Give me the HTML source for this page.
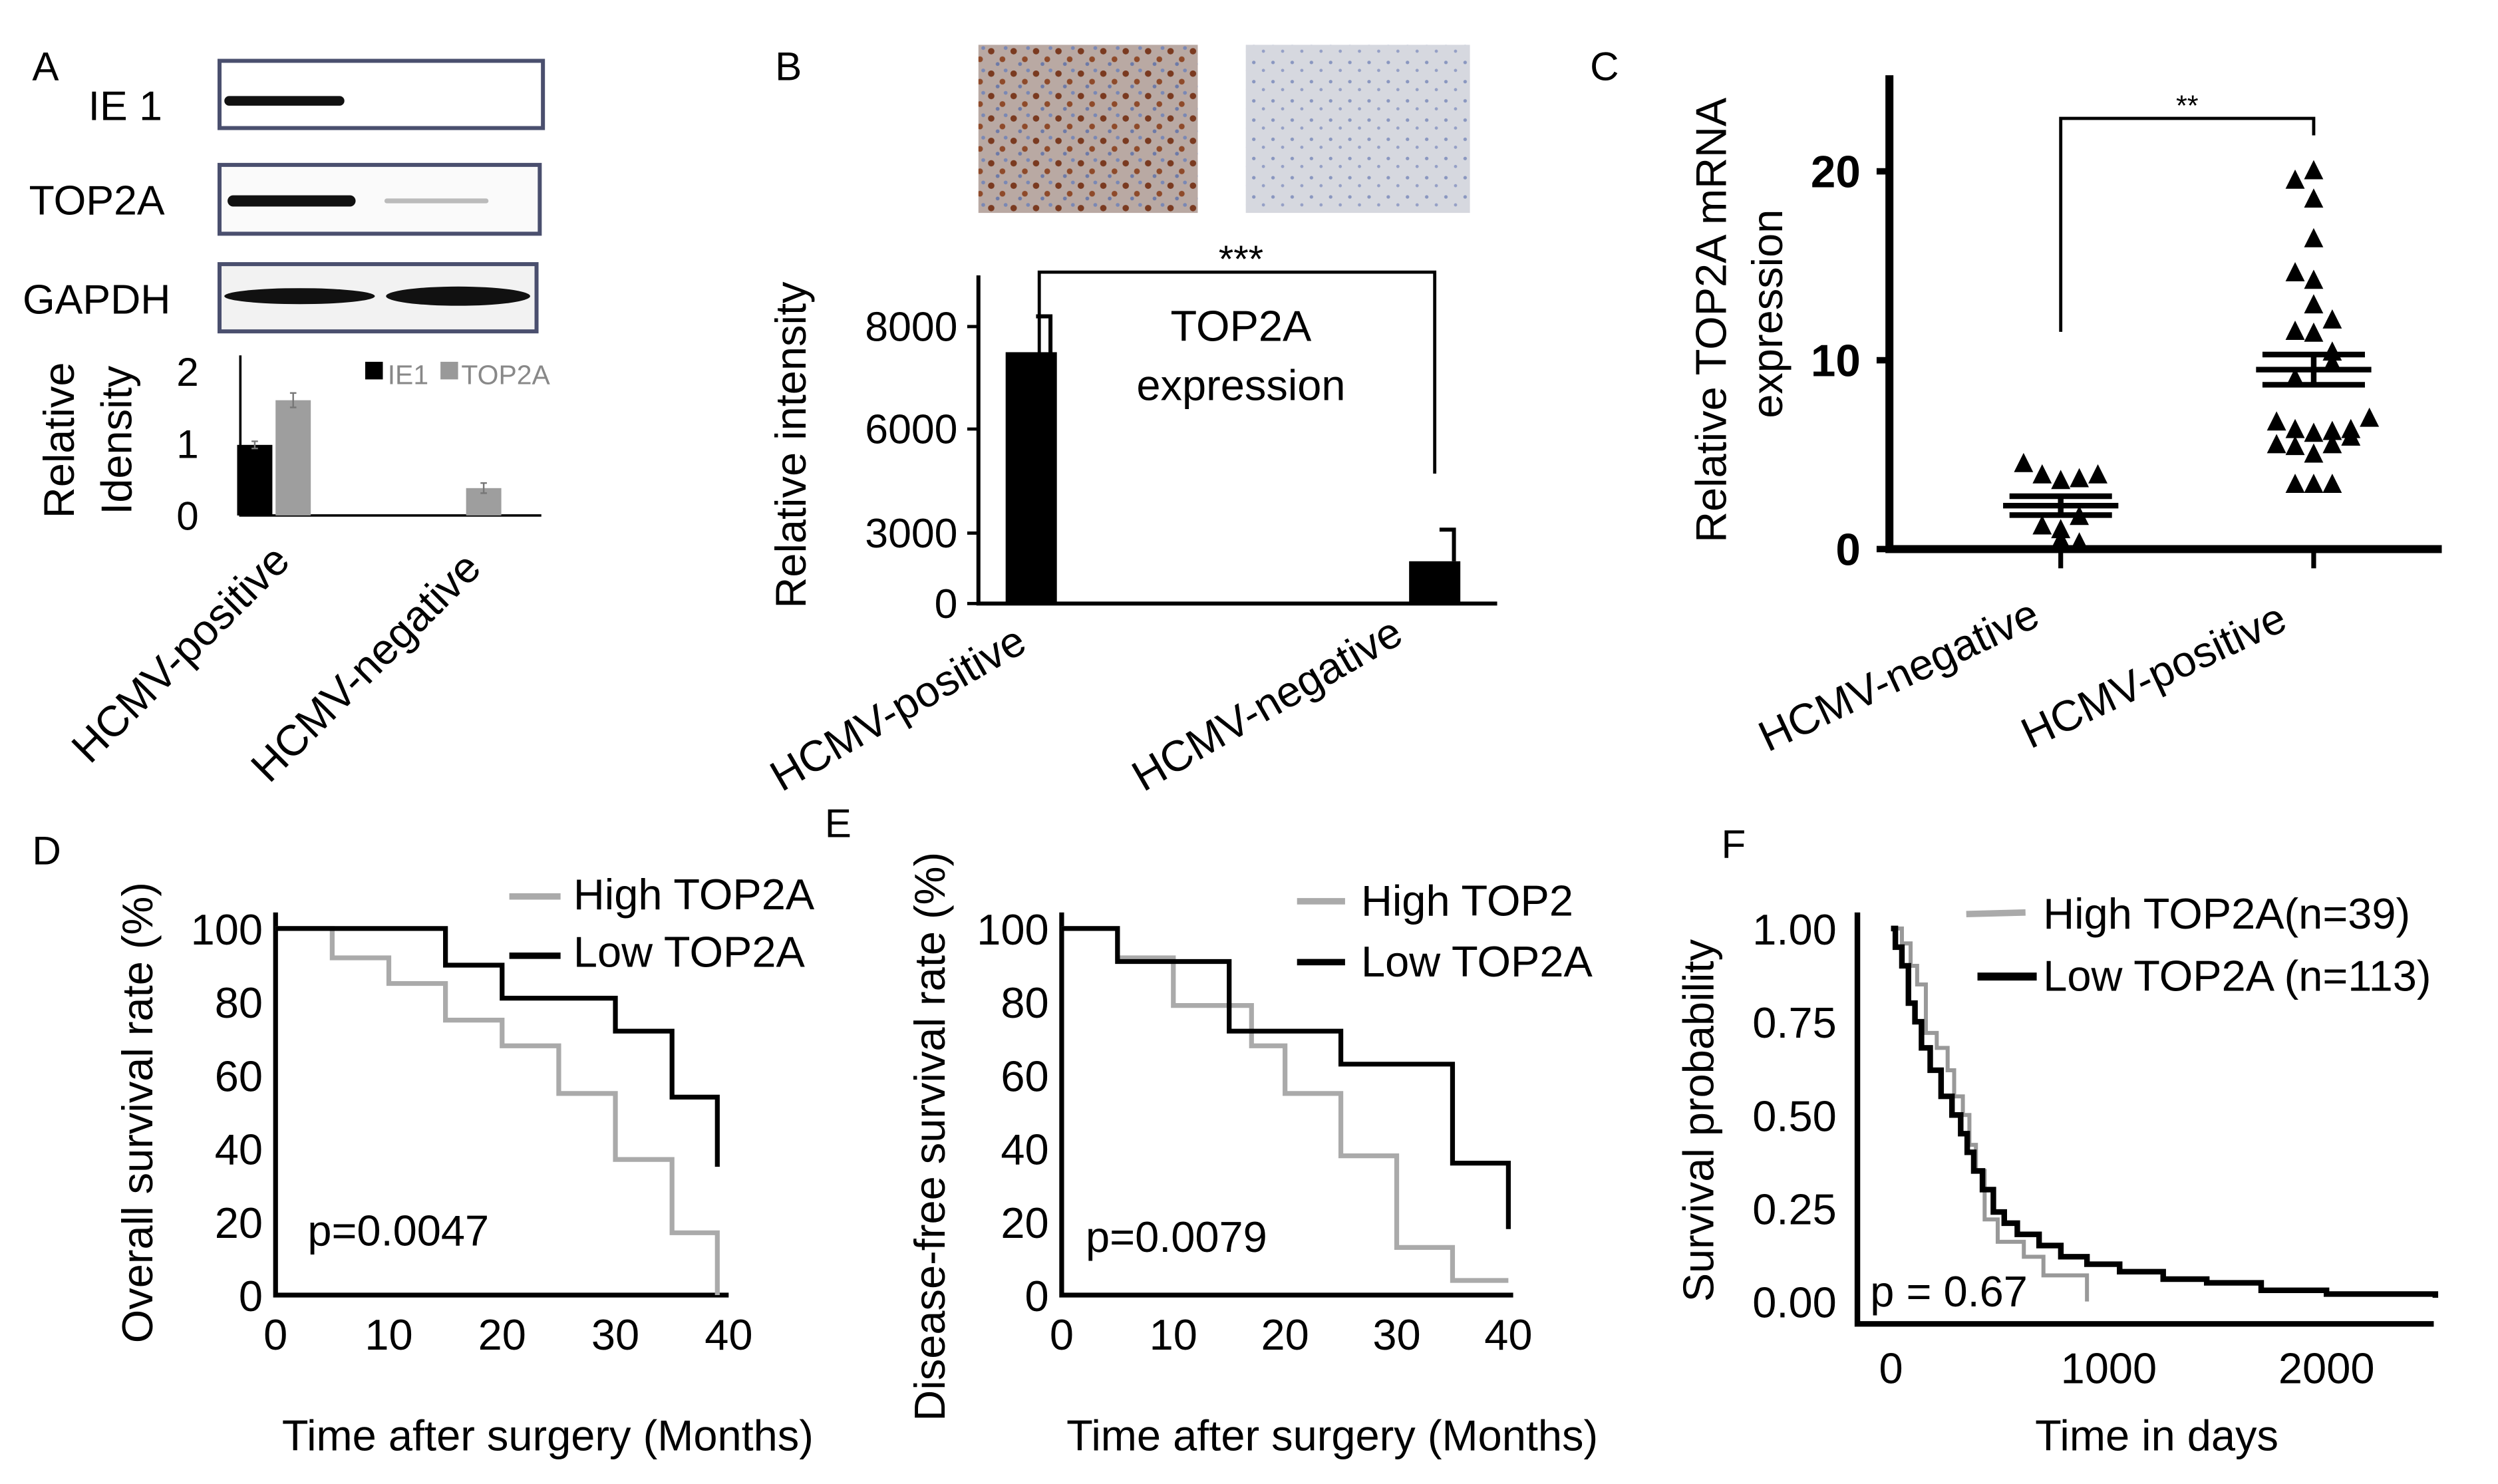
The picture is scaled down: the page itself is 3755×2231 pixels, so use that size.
<!DOCTYPE html>
<html><head><meta charset="utf-8"><style>
html,body{margin:0;padding:0;background:#fff}
svg{display:block}
text{font-family:"Liberation Sans",sans-serif;fill:#000}
</style></head><body>
<svg id="fig" xmlns="http://www.w3.org/2000/svg" width="3755" height="2231" viewBox="0 0 1560 927">
<defs>
<pattern id="ihcPos" width="14" height="14" patternUnits="userSpaceOnUse"><rect width="14" height="14" fill="#b9a9a3"/><circle cx="3" cy="4" r="2" fill="#7a3a20"/><circle cx="10" cy="9" r="1.8" fill="#8e4a2a"/><circle cx="7" cy="12" r="1.2" fill="#6d7aa8"/><circle cx="12" cy="2" r="1.2" fill="#7a88b5"/></pattern>
<pattern id="ihcNeg" width="12" height="12" patternUnits="userSpaceOnUse"><rect width="12" height="12" fill="#d6d8df"/><circle cx="3" cy="3" r="1.1" fill="#8a97c0"/><circle cx="9" cy="8" r="1" fill="#95a0c6"/></pattern>
</defs>

<g>
<text x="20" y="50" font-size="25">A</text>
<text x="55" y="75" font-size="26">IE 1</text>
<rect x="137" y="38" width="202" height="42" fill="#fff" stroke="#4a4f6e" stroke-width="2.5"/>
<rect x="140" y="60" width="75" height="6" rx="3" fill="#111"/>
<text x="18" y="134" font-size="26">TOP2A</text>
<rect x="137" y="103" width="200" height="43" fill="#fafafa" stroke="#4a4f6e" stroke-width="2.5"/>
<rect x="142" y="122" width="80" height="7" rx="3.5" fill="#111"/>
<rect x="240" y="124" width="65" height="3" rx="1.5" fill="#bbb"/>
<text x="14" y="196" font-size="26">GAPDH</text>
<rect x="137" y="165" width="198" height="42" fill="#f2f2f2" stroke="#4a4f6e" stroke-width="2.5"/>
<ellipse cx="187" cy="185" rx="47" ry="5" fill="#111"/>
<ellipse cx="286" cy="185" rx="45" ry="6" fill="#111"/>
<g id="chartA"></g>
<text transform="translate(46,275) rotate(-90)" font-size="27" text-anchor="middle">Relative</text>
<text transform="translate(82,275) rotate(-90)" font-size="27" text-anchor="middle">Idensity</text>
<rect x="228" y="226" width="11" height="11" fill="#000"/>
<text x="242" y="240" font-size="17" style="fill:#888">IE1</text>
<rect x="275" y="226" width="11" height="11" fill="#999"/>
<text x="288" y="240" font-size="17" style="fill:#888">TOP2A</text>
<text transform="translate(56,478) rotate(-45)" font-size="27">HCMV-positive</text>
<text transform="translate(168,490) rotate(-45)" font-size="27">HCMV-negative</text>
</g>

<g>
<text x="484" y="50" font-size="25">B</text>
<rect x="611" y="28" width="137" height="105" fill="url(#ihcPos)"/>
<rect x="778" y="28" width="140" height="105" fill="url(#ihcNeg)"/>
<g id="chartB"></g>
<text transform="translate(503,278) rotate(-90)" font-size="27" text-anchor="middle">Relative intensity</text>
<text x="775" y="213" font-size="27" text-anchor="middle">TOP2A</text>
<text x="775" y="250" font-size="27" text-anchor="middle">expression</text>
<text transform="translate(488,495) rotate(-30)" font-size="27">HCMV-positive</text>
<text transform="translate(714,495) rotate(-30)" font-size="27">HCMV-negative</text>
</g>

<g>
<text x="993" y="50" font-size="25">C</text>
<g id="chartC"></g>
<text transform="translate(1078,200) rotate(-90)" font-size="27" text-anchor="middle">Relative TOP2A mRNA</text>
<text transform="translate(1113,196) rotate(-90)" font-size="27" text-anchor="middle">expression</text>
<text transform="translate(1104,470) rotate(-25)" font-size="27">HCMV-negative</text>
<text transform="translate(1268,468) rotate(-25)" font-size="27">HCMV-positive</text>
</g>

<g>
<text x="20" y="540" font-size="25">D</text>
<g id="chartD"></g>
<text transform="translate(95,695) rotate(-90)" font-size="27" text-anchor="middle">Overall survival rate (%)</text>
<text x="342" y="906" font-size="27" text-anchor="middle">Time after surgery (Months)</text>
<line x1="318" y1="560" x2="350" y2="560" stroke="#aaa" stroke-width="4"/>
<text x="358" y="568" font-size="27">High TOP2A</text>
<line x1="318" y1="597" x2="350" y2="597" stroke="#000" stroke-width="4"/>
<text x="358" y="604" font-size="27">Low TOP2A</text>
<text x="192" y="778" font-size="27">p=0.0047</text>
</g>

<g>
<text x="515" y="523" font-size="25">E</text>
<g id="chartE"></g>
<text transform="translate(590,710) rotate(-90)" font-size="27" text-anchor="middle">Disease-free survival rate (%)</text>
<text x="832" y="906" font-size="27" text-anchor="middle">Time after surgery (Months)</text>
<line x1="810" y1="563" x2="840" y2="563" stroke="#aaa" stroke-width="4"/>
<text x="850" y="572" font-size="27">High TOP2</text>
<line x1="810" y1="601" x2="840" y2="601" stroke="#000" stroke-width="4"/>
<text x="850" y="610" font-size="27">Low TOP2A</text>
<text x="678" y="782" font-size="27">p=0.0079</text>
</g>

<g>
<text x="1075" y="536" font-size="25">F</text>
<g id="chartF"></g>
<text transform="translate(1070,700) rotate(-90)" font-size="27" text-anchor="middle">Survival probability</text>
<text x="1347" y="906" font-size="27" text-anchor="middle">Time in days</text>
<line x1="1228" y1="571" x2="1265" y2="570" stroke="#aaa" stroke-width="4"/>
<text x="1276" y="580" font-size="27">High TOP2A(n=39)</text>
<line x1="1235" y1="610" x2="1272" y2="610" stroke="#000" stroke-width="5"/>
<text x="1276" y="619" font-size="27">Low TOP2A (n=113)</text>
<text x="1168" y="816" font-size="27">p = 0.67</text>
</g>
</svg>
<script>
var aGroups = ["HCMV-positive","HCMV-negative"];
var aIE1 = [0.98, 0];
var aTOP2A = [1.6, 0.38];
var aIE1Err = [0.05, 0];
var aTOP2AErr = [0.1, 0.07];
var aTicks = [0,1,2];

var bGroups = ["HCMV-positive","HCMV-negative"];
var bValues = [7500, 1800];
var bErr = [700, 1300];
var bTicks = [0,3000,6000,8000];

var cNeg = [4.5,3.9,3.6,3.7,3.9,1.7,1.2,1.0,0.45,0.3];
var cNegSlot = [-2,-1,0,1,2,1,-1,0,0,1];
var cPos = [20,19.5,18.5,16.4,14.6,14.2,12.9,12.1,11.5,11.4,10.4,9.8,9.0,6.9,6.7,6.3,6.1,6.2,6.3,5.9,5.5,5.4,5.5,5.0,3.4,3.4,3.4];
var cPosSlot = [0,-1,0,0,-1,0,0,1,-1,0,1,1,-1,3,-2,-1,0,1,2,2,-2,-1,1,0,-1,0,1];
var cMeans = [2.3, 9.5];
var cSem = [0.5, 0.8];
var cTicks = [0,10,20];

var dTicks = [0,10,20,30,40];
var dYTicks = [0,20,40,60,80,100];
var dHighT = [0,5,10,15,20,25,30,35,39,39];
var dHighS = [100,92,85,75,68,55,37,17,0,0];
var dLowT = [0,15,20,30,35,39,39];
var dLowS = [100,90,81,72,54,35,35];

var eHighT = [0,5,10,17,20,25,30,35,40];
var eHighS = [100,92,79,68,55,38,13,4,4];
var eLowT = [0,5,15,25,35,40,40];
var eLowS = [100,91,72,63,36,18,18];

var fXTicks = [0,1000,2000];
var fYTicks = [0,0.25,0.5,0.75,1.0];
var fYLabels = ["0.00","0.25","0.50","0.75","1.00"];
var fLowT = [0,20,50,80,110,140,180,230,280,320,350,380,420,470,520,580,680,780,900,1050,1250,1450,1700,2000,2500];
var fLowS = [1.0,0.95,0.9,0.8,0.75,0.68,0.62,0.55,0.5,0.45,0.4,0.35,0.3,0.24,0.21,0.18,0.15,0.12,0.1,0.08,0.06,0.05,0.03,0.02,0.01];
var fHighT = [0,50,90,120,160,210,260,290,330,360,390,430,490,610,700,900,900];
var fHighS = [1.0,0.96,0.9,0.85,0.72,0.68,0.62,0.55,0.5,0.42,0.35,0.22,0.16,0.12,0.07,0.05,0.0];

var NS = "http://www.w3.org/2000/svg";
function mk(parent, tag, attrs){var e=document.createElementNS(NS,tag);for(var k in attrs)e.setAttribute(k,attrs[k]);parent.appendChild(e);return e;}
function lin(d0,d1,r0,r1){return function(v){return r0+(v-d0)*(r1-r0)/(d1-d0);};}
function piece(dom,rng){return function(v){for(var i=0;i<dom.length-1;i++){if(v<=dom[i+1]||i==dom.length-2){return rng[i]+(v-dom[i])*(rng[i+1]-rng[i])/(dom[i+1]-dom[i]);}}};}
function stepPath(T,S,x,y){var d="M"+x(T[0])+","+y(S[0]);for(var i=1;i<T.length;i++){d+=" H"+x(T[i])+" V"+y(S[i]);}return d;}

(function(){
var g=document.getElementById("chartA");
var y=lin(0,2,322,232);
var gx=[171,302];
var ax=mk(g,"path",{d:"M150,222 V322 H338",fill:"none",stroke:"#000","stroke-width":1.5});

aTicks.forEach(function(t){var tx=mk(g,"text",{x:124,y:y(t)+9,"font-size":25,"text-anchor":"end"});tx.textContent=t;
});
aGroups.forEach(function(gr,i){
 if(aIE1[i]>0){var r=mk(g,"rect",{x:gx[i]-11-12,y:y(aIE1[i]),width:22,height:y(0)-y(aIE1[i]),fill:"#000"});
 
 var e=mk(g,"path",{d:"M"+(gx[i]-12)+","+y(aIE1[i]+aIE1Err[i])+" V"+y(aIE1[i]-aIE1Err[i])+" M"+(gx[i]-14)+","+y(aIE1[i]+aIE1Err[i])+" h4 M"+(gx[i]-14)+","+y(aIE1[i]-aIE1Err[i])+" h4",stroke:"#777","stroke-width":1,fill:"none"});
 }
 var bx=i==0?gx[i]+12:gx[i];
 var r2=mk(g,"rect",{x:bx-11,y:y(aTOP2A[i]),width:22,height:y(0)-y(aTOP2A[i]),fill:"#9e9e9e"});
 
 var e2=mk(g,"path",{d:"M"+bx+","+y(aTOP2A[i]+aTOP2AErr[i])+" V"+y(aTOP2A[i]-aTOP2AErr[i])+" M"+(bx-2)+","+y(aTOP2A[i]+aTOP2AErr[i])+" h4 M"+(bx-2)+","+y(aTOP2A[i]-aTOP2AErr[i])+" h4",stroke:"#777","stroke-width":1,fill:"none"});
 
});
})();

(function(){
var g=document.getElementById("chartB");
var y=piece([0,3000,6000,8000],[377,333,268,204]);
var gx=[644,896];
var ax=mk(g,"path",{d:"M611,172 V377 H935",fill:"none",stroke:"#000","stroke-width":2.5});

bTicks.forEach(function(t){var tk=mk(g,"line",{x1:604,x2:611,y1:y(t),y2:y(t),stroke:"#000","stroke-width":2});

var tx=mk(g,"text",{x:598,y:y(t)+9,"font-size":26,"text-anchor":"end"});tx.textContent=t;
});
bValues.forEach(function(v,i){
 var r=mk(g,"rect",{x:gx[i]-16,y:y(v),width:32,height:y(0)-y(v),fill:"#000"});
 
 var e=mk(g,"path",{d:"M"+(gx[i]+12)+","+y(v)+" V"+y(v+bErr[i])+" h-9",stroke:"#000","stroke-width":2.5,fill:"none"});
 
});
var br=mk(g,"path",{d:"M"+(gx[0]+5)+","+y(bValues[0]+bErr[0]-1100)+" V170 H"+(gx[1])+" V"+(y(bValues[1]+bErr[1])-35),stroke:"#000","stroke-width":2,fill:"none"});

var st=mk(g,"text",{x:775,y:170,"font-size":24,"text-anchor":"middle"});st.textContent="***";

})();

(function(){
var g=document.getElementById("chartC");
var y=lin(0,20,343,107);
var gx=[1287,1445];var slot=11.6;
var ax=mk(g,"path",{d:"M1180,47 V343 H1525",fill:"none",stroke:"#000","stroke-width":5});

cTicks.forEach(function(t){var tk=mk(g,"line",{x1:1172,x2:1180,y1:y(t),y2:y(t),stroke:"#000","stroke-width":4});

var tx=mk(g,"text",{x:1162,y:y(t)+10,"font-size":28,"font-weight":"bold","text-anchor":"end"});tx.textContent=t;
});
gx.forEach(function(x){var tk=mk(g,"line",{x1:x,x2:x,y1:343,y2:355,stroke:"#000","stroke-width":3});
});
function tri(x,yy,name){var p=mk(g,"path",{d:"M"+x+","+(yy-7)+" L"+(x+6)+","+(yy+5)+" L"+(x-6)+","+(yy+5)+"Z",fill:"#000"});
}
cNeg.forEach(function(v,i){tri(gx[0]+cNegSlot[i]*slot,y(v),'c-point-negative');});
cPos.forEach(function(v,i){tri(gx[1]+cPosSlot[i]*slot,y(v),'c-point-positive');});
cMeans.forEach(function(m,i){
 var p=mk(g,"path",{d:"M"+(gx[i]-36)+","+y(m)+" h72 M"+(gx[i]-32)+","+y(m+cSem[i])+" h64 M"+(gx[i]-32)+","+y(m-cSem[i])+" h64 M"+gx[i]+","+y(m+cSem[i])+" V"+y(m-cSem[i]),stroke:"#000","stroke-width":3.5,fill:"none"});
 
});
var br=mk(g,"path",{d:"M"+gx[0]+","+y(11.5)+" V"+y(22.8)+" H"+gx[1]+" V"+y(21.9),stroke:"#000","stroke-width":2,fill:"none"});

var st=mk(g,"text",{x:(gx[0]+gx[1])/2,y:72,"font-size":18,"text-anchor":"middle"});st.textContent="**";

})();

function km(id,x0,xMax,xEnd,lowT,lowS,highT,highS,pre){
var g=document.getElementById(id);
var x=lin(0,40,x0,x0+(xMax-x0));var y=lin(0,100,809,580);
var ax=mk(g,"path",{d:"M"+x0+",570 V809 H"+xEnd,fill:"none",stroke:"#000","stroke-width":3});

dTicks.forEach(function(t){var tx=mk(g,"text",{x:x(t),y:843,"font-size":27,"text-anchor":"middle"});tx.textContent=t;
});
dYTicks.forEach(function(t){var tx=mk(g,"text",{x:x0-8,y:y(t)+10,"font-size":27,"text-anchor":"end"});tx.textContent=t;
});
var h=mk(g,"path",{d:stepPath(highT,highS,x,y),fill:"none",stroke:"#aaa","stroke-width":3});

var l=mk(g,"path",{d:stepPath(lowT,lowS,x,y),fill:"none",stroke:"#000","stroke-width":3});

}
km("chartD",172,455,455,dLowT,dLowS,dHighT,dHighS,'d');
km("chartE",663,942,945,eLowT,eLowS,eHighT,eHighS,'e');

(function(){
var g=document.getElementById("chartF");
var x=lin(0,1000,1181,1317);var y=lin(0,1,813,580);
var ax=mk(g,"path",{d:"M1160,570 V827 H1520",fill:"none",stroke:"#000","stroke-width":3.5});

fXTicks.forEach(function(t){var tx=mk(g,"text",{x:x(t),y:864,"font-size":27,"text-anchor":"middle"});tx.textContent=t;
});
fYTicks.forEach(function(t,i){var tx=mk(g,"text",{x:1147,y:y(t)+10,"font-size":27,"text-anchor":"end"});tx.textContent=fYLabels[i];
});
var h=mk(g,"path",{d:stepPath(fHighT,fHighS,x,y),fill:"none",stroke:"#999","stroke-width":2.5});

var l=mk(g,"path",{d:stepPath(fLowT,fLowS,x,y),fill:"none",stroke:"#000","stroke-width":3.5});

})();
</script>
</body></html>
